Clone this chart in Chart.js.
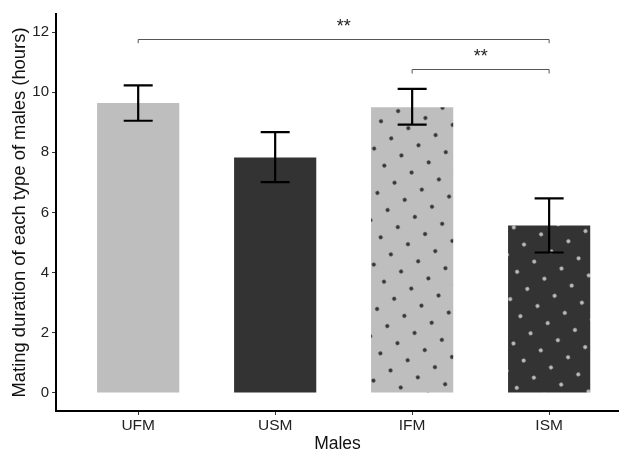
<!DOCTYPE html>
<html>
<head>
<meta charset="utf-8">
<script src="https://cdn.jsdelivr.net/npm/chart.js@4/dist/chart.umd.min.js"></script>
<style>
  html, body { margin: 0; padding: 0; background: #fff; overflow: hidden; }
  #wrap { position: relative; width: 619px; height: 451px; }
</style>
</head>
<body>
<div id="wrap"><canvas id="chart"></canvas></div>
<script>
/* ---------- Data ---------- */
const categories = ["UFM", "USM", "IFM", "ISM"];
const meanHours = [9.64, 7.83, 9.5, 5.57];
const errLow = [9.05, 7.01, 8.92, 4.67];
const errHigh = [10.23, 8.67, 10.11, 6.47];
const yTicks = [0, 2, 4, 6, 8, 10, 12];
// significance brackets: from category, to category, bracket height, label
const sigFrom = [0, 2];
const sigTo = [3, 3];
const sigLevel = [11.78, 10.77];
const sigLabel = ["**", "**"];

/* ---------- Dotted fill patterns ---------- */
function dotPattern(ctx, bg, dot) {
    const tile = document.createElement("canvas");
    tile.width = 20; tile.height = 20;
    const t = tile.getContext("2d");
    t.fillStyle = bg;
    t.fillRect(0, 0, 20, 20);
    t.fillStyle = dot;
    t.beginPath();
    t.arc(10, 10, 2, 0, Math.PI * 2);
    t.fill();
    const p = ctx.createPattern(tile, "repeat");
    p.setTransform(new DOMMatrix().translate(380.7, 237.3).rotate(59.2).scale(0.995).translate(-10, -10));
    return p;
}

const canvas = document.getElementById("chart");
const ctx = canvas.getContext("2d");
const light = "#bebebe", dark = "#333333";
const fills = [light, dark, dotPattern(ctx, light, dark), dotPattern(ctx, dark, light)];

/* ---------- Error bars + significance brackets ---------- */
const overlays = {
    id: "overlays",
    afterDatasetsDraw(chart) {
        const c = chart.ctx, xs = chart.scales.x, ys = chart.scales.y;
        c.save();
        c.strokeStyle = "#000";
        c.lineWidth = 2.2;
        meanHours.forEach(function (v, i) {
            const x = xs.getPixelForValue(i + 1);
            const y1 = ys.getPixelForValue(errLow[i]);
            const y2 = ys.getPixelForValue(errHigh[i]);
            c.beginPath();
            c.moveTo(x, y1); c.lineTo(x, y2);
            c.moveTo(x - 14.5, y1); c.lineTo(x + 14.5, y1);
            c.moveTo(x - 14.5, y2); c.lineTo(x + 14.5, y2);
            c.stroke();
        });
        c.strokeStyle = "#555";
        c.lineWidth = 1;
        c.fillStyle = "#222";
        c.font = "18px 'Liberation Sans', Arial, sans-serif";
        c.textAlign = "center";
        c.textBaseline = "middle";
        sigLevel.forEach(function (lvl, k) {
            const xa = xs.getPixelForValue(sigFrom[k] + 1);
            const xb = xs.getPixelForValue(sigTo[k] + 1);
            const y = Math.round(ys.getPixelForValue(lvl)) + 0.5;
            const leg = ys.getPixelForValue(lvl - 0.15);
            c.beginPath();
            c.moveTo(xa, leg); c.lineTo(xa, y); c.lineTo(xb, y); c.lineTo(xb, leg);
            c.stroke();
            c.fillText(sigLabel[k], (xa + xb) / 2, y - 12);
        });
        c.restore();
    }
};

/* ---------- Chart ---------- */
new Chart(ctx, {
    type: "bar",
    data: {
        datasets: [{
            data: meanHours.map(function (v, i) { return { x: i + 1, y: v }; }),
            backgroundColor: fills,
            borderWidth: 0,
            barPercentage: 0.6,
            categoryPercentage: 1
        }]
    },
    options: {
        responsive: true,
        maintainAspectRatio: false,
        animation: false,
        layout: { padding: { top: 14, left: 0, right: 0, bottom: 0 } },
        plugins: { legend: { display: false }, tooltip: { enabled: false } },
        scales: {
            x: {
                type: "linear",
                min: 0.4,
                max: 4.51,
                offset: false,
                afterBuildTicks: function (s) { s.ticks = categories.map(function (n, i) { return { value: i + 1 }; }); },
                afterFit: function (s) { s.height = 40; },
                ticks: {
                    callback: function (v) { return categories[v - 1]; },
                    color: "#222",
                    font: { family: "'Liberation Sans', Arial", size: 15.5 },
                    padding: 1,
                    maxRotation: 0
                },
                grid: { display: true, offset: false, drawOnChartArea: false, drawTicks: true, tickLength: 4, color: "#333" },
                border: { display: true, color: "#000", width: 2 },
                title: {
                    display: true, text: "Males", color: "#111",
                    font: { family: "'Liberation Sans', Arial", size: 17.5, lineHeight: 1 },
                    padding: { top: 0, bottom: -2 }
                }
            },
            y: {
                min: -0.6,
                max: 12.6,
                afterBuildTicks: function (s) { s.ticks = yTicks.map(function (v) { return { value: v }; }); },
                afterFit: function (s) { s.width = 56; },
                ticks: {
                    color: "#222",
                    font: { family: "'Liberation Sans', Arial", size: 15 },
                    padding: 3
                },
                grid: { display: true, drawOnChartArea: false, drawTicks: true, tickLength: 4, color: "#333" },
                border: { display: true, color: "#000", width: 2 },
                title: {
                    display: true, text: "Mating duration of each type of males (hours)", color: "#111",
                    font: { family: "'Liberation Sans', Arial", size: 18.4, lineHeight: 1.2 },
                    padding: { top: 9, bottom: 0 }
                }
            }
        }
    },
    plugins: [overlays]
});
</script>
</body>
</html>
